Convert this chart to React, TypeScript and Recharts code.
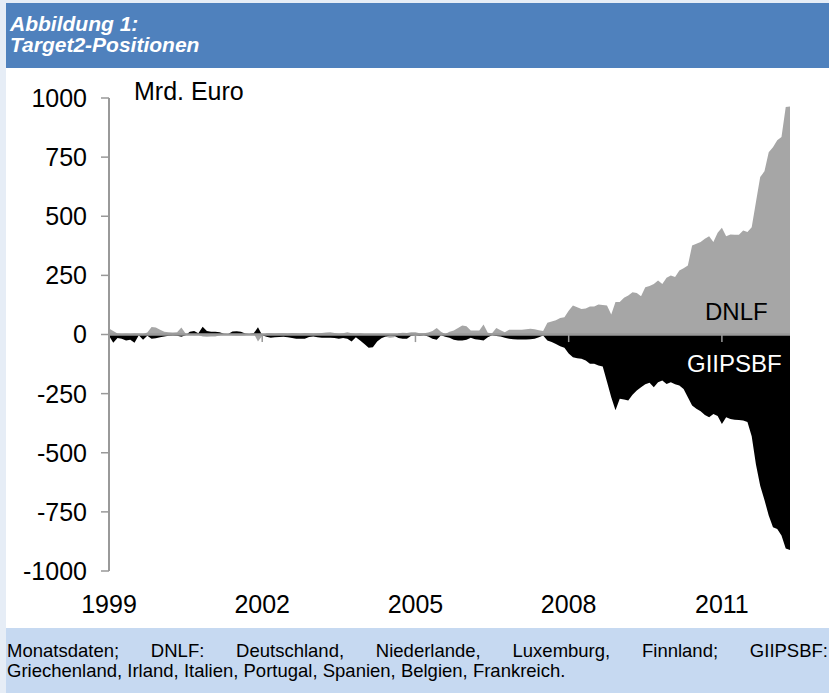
import React from 'react';
import { AreaChart, Area, XAxis, YAxis, ReferenceLine } from 'recharts';

// Monthly data, Jan 1999 .. May 2012, Mrd. Euro
const startYear = 1999;
const dnlf = [
  25, 15, 4, 2, 3, 2, 4, 3, 2, 8, 32, 30, // 1999
  20, 12, 10, 8, 10, 30, 4, 0, -3, -2, -8, -10, // 2000
  -8, -8, -3, 0, 0, -3, -4, -4, -3, 3, 4, -30, // 2001
  -5, 5, 5, 4, 5, 5, 4, 6, 5, 4, 6, 5, // 2002
  4, 5, 6, 8, 10, 6, 3, 5, 10, 5, 3, 5, // 2003
  2, 0, 0, 0, 2, -10, -14, -12, 5, 7, 6, 10, // 2004
  10, 5, 5, 8, 15, 27, 12, 2, 12, 17, 28, 38, // 2005
  35, 17, 17, 17, 42, 7, 5, 27, 18, 10, 20, 20, // 2006
  20, 20, 22, 24, 22, 18, 15, 50, 55, 60, 70, 73, // 2007
  100, 123, 115, 108, 110, 118, 118, 127, 125, 123, 85, 137, // 2008
  137, 155, 165, 179, 175, 162, 200, 205, 214, 228, 214, 240, // 2009
  250, 243, 271, 280, 292, 376, 384, 391, 405, 415, 391, 430, // 2010
  451, 415, 423, 422, 422, 440, 433, 454, 560, 666, 690, 771, // 2011
  792, 821, 835, 962, 964, // 2012
];
const giipsbf = [
  -5, -35, -15, -18, -25, -22, -35, -3, -22, -5, -18, -16, // 1999
  -12, -8, -5, -4, -5, -10, -3, 12, 15, 5, 33, 15, // 2000
  12, 12, 10, 3, 2, 13, 14, 12, 4, 2, 5, 31, // 2001
  -3, -10, -14, -12, -11, -10, -12, -15, -18, -18, -18, -11, // 2002
  -8, -12, -14, -14, -14, -15, -18, -15, -18, -30, -12, -25, // 2003
  -40, -56, -54, -30, -16, -8, -4, -5, -15, -18, -18, -5, // 2004
  -3, -5, -3, -8, -18, -22, -3, -10, -14, -22, -25, -25, // 2005
  -22, -14, -20, -22, -25, -12, -3, -6, -8, -14, -18, -20, // 2006
  -21, -21, -21, -20, -18, -12, -4, -25, -32, -40, -50, -56, // 2007
  -80, -96, -100, -103, -110, -124, -124, -131, -135, -200, -265, -320, // 2008
  -272, -275, -279, -255, -237, -223, -210, -204, -223, -202, -195, -209, // 2009
  -202, -210, -216, -230, -265, -300, -314, -325, -340, -350, -336, -345, // 2010
  -378, -350, -357, -360, -362, -364, -370, -430, -550, -640, -700, -765, // 2011
  -815, -822, -850, -905, -911, // 2012
];
const yearTicks = [1999, 2002, 2005, 2008, 2011];
const yTicks = [-1000, -750, -500, -250, 0, 250, 500, 750, 1000];
const titleLines = ['Abbildung 1:', 'Target2-Positionen'];
const unitLabel = 'Mrd. Euro';
const seriesLabels = ['DNLF', 'GIIPSBF'];
const noteLine1 = 'Monatsdaten; DNLF: Deutschland, Niederlande, Luxemburg, Finnland; GIIPSBF:';
const noteLine2 = 'Griechenland, Irland, Italien, Portugal, Spanien, Belgien, Frankreich.';

const data = dnlf.map((v, i) => ({ t: i, dnlf: v, giipsbf: giipsbf[i] }));
const tickIdx = yearTicks.map((y) => (y - startYear) * 12);
const lastIdx = dnlf.length - 1;

const FONT = "'Liberation Sans', Arial, Helvetica, sans-serif";
const AXIS_GRAY = '#999999';

export default function App() {
  return (
    <div
      style={{
        position: 'absolute',
        left: 0,
        top: 0,
        width: 829,
        height: 693,
        background: '#e6edf6',
        overflow: 'hidden',
        fontFamily: FONT,
      }}
    >
      <div style={{ position: 'absolute', left: 6, top: 3, width: 823, height: 65, background: '#4f81bd' }}>
        <div
          style={{
            position: 'absolute',
            left: 4,
            top: 10,
            color: '#ffffff',
            fontWeight: 'bold',
            fontStyle: 'italic',
            fontSize: 21,
            lineHeight: '21px',
          }}
        >
          <div>{titleLines[0]}</div>
          <div>{titleLines[1]}</div>
        </div>
      </div>
      <div style={{ position: 'absolute', left: 6, top: 68, width: 823, height: 560, background: '#ffffff' }} />
      <div style={{ position: 'absolute', left: 6, top: 628, width: 823, height: 65, background: '#c6d9f1' }}>
        <div
          style={{
            position: 'absolute',
            left: 1,
            top: 13,
            width: 821,
            fontSize: 18.5,
            lineHeight: '20px',
            color: '#000',
          }}
        >
          <div style={{ textAlign: 'justify', textAlignLast: 'justify' }}>{noteLine1}</div>
          <div>{noteLine2}</div>
        </div>
      </div>
      <div style={{ position: 'absolute', left: 0, top: 0 }}>
        <AreaChart
          width={829}
          height={693}
          data={data}
          margin={{ top: 98, right: 39, bottom: 82, left: 9 }}
        >
          <XAxis
            dataKey="t"
            type="number"
            domain={[0, lastIdx]}
            ticks={tickIdx}
            tickFormatter={(v: number) => String(startYear + v / 12)}
            axisLine={false}
            tickLine={false}
            tickSize={8}
            tickMargin={16}
            height={40}
            tick={{ fontSize: 25, fill: '#000', fontFamily: FONT }}
          />
          <YAxis
            type="number"
            domain={[-1000, 1000]}
            ticks={yTicks}
            width={100}
            axisLine={{ stroke: AXIS_GRAY, strokeWidth: 2 }}
            tickLine={{ stroke: AXIS_GRAY, strokeWidth: 1.5 }}
            tickSize={8}
            tickMargin={14}
            interval={0}
            tick={{ fontSize: 25, fill: '#000', fontFamily: FONT }}
          />
          <Area
            type="linear"
            dataKey="dnlf"
            baseValue={0}
            stroke="none"
            fill="#a6a6a6"
            fillOpacity={1}
            isAnimationActive={false}
          />
          <Area
            type="linear"
            dataKey="giipsbf"
            baseValue={0}
            stroke="none"
            fill="#000000"
            fillOpacity={1}
            isAnimationActive={false}
          />
          <ReferenceLine y={0} stroke={AXIS_GRAY} strokeWidth={2.5} />
          {tickIdx.map((t) => (
            <ReferenceLine
              key={t}
              segment={[
                { x: t, y: 0 },
                { x: t, y: -32 },
              ]}
              stroke={AXIS_GRAY}
              strokeWidth={1.5}
            />
          ))}
        </AreaChart>
      </div>
      <svg
        width={829}
        height={693}
        style={{ position: 'absolute', left: 0, top: 0, pointerEvents: 'none' }}
      >
        <text x={134} y={100} fontSize={25} fontFamily={FONT} fill="#000">
          {unitLabel}
        </text>
        <text x={705} y={320} fontSize={24} fontFamily={FONT} fill="#000">
          {seriesLabels[0]}
        </text>
        <text x={687} y={372} fontSize={24} fontFamily={FONT} fill="#fff">
          {seriesLabels[1]}
        </text>
      </svg>
    </div>
  );
}
